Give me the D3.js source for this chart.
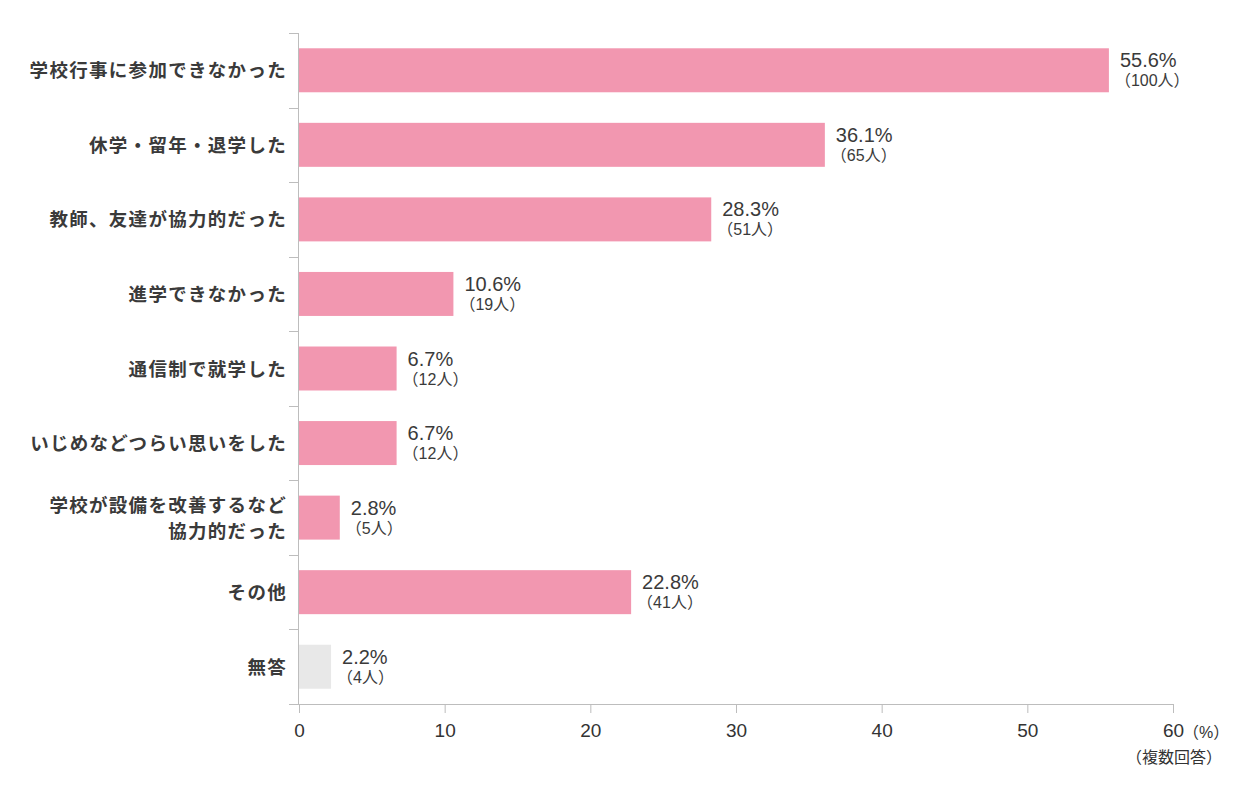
<!DOCTYPE html>
<html lang="ja">
<head>
<meta charset="UTF-8">
<title>chart</title>
<script src="https://d3js.org/d3.v7.min.js"></script>
<style>
  body { margin: 0; background: #fff; }
  text { font-family: "Liberation Sans", "Noto Sans CJK JP", sans-serif; }
</style>
</head>
<body>
<svg width="1250" height="800"></svg>
<script>
// data
const categories = [
  ["学校行事に参加できなかった"],
  ["休学・留年・退学した"],
  ["教師、友達が協力的だった"],
  ["進学できなかった"],
  ["通信制で就学した"],
  ["いじめなどつらい思いをした"],
  ["学校が設備を改善するなど", "協力的だった"],
  ["その他"],
  ["無答"]
];
const percents = [55.6, 36.1, 28.3, 10.6, 6.7, 6.7, 2.8, 22.8, 2.2];
const counts = [100, 65, 51, 19, 12, 12, 5, 41, 4];
const xTicks = [0, 10, 20, 30, 40, 50, 60];

const margin = {top: 33, left: 299, right: 1173, bottom: 704};
const svg = d3.select("svg");

const rows = categories.map((c, i) => ({lines: c, pct: percents[i], n: counts[i], i: i}));

const x = d3.scaleLinear().domain([0, 60]).range([margin.left, margin.right]);
const y = d3.scaleBand().domain(d3.range(rows.length))
  .range([margin.top, margin.bottom]).paddingInner(0.41).paddingOuter(0.205);
const band = d3.scaleBand().domain(d3.range(rows.length))
  .range([margin.top, margin.bottom]);

const axisColor = "#bdbdbd";

// y axis line + separators
svg.append("line")
  .attr("x1", margin.left - 0.5).attr("x2", margin.left - 0.5)
  .attr("y1", margin.top).attr("y2", margin.bottom)
  .attr("stroke", axisColor);
svg.selectAll(".sep")
  .data(d3.range(rows.length))
  .enter().append("line")
  .attr("x1", margin.left - 10).attr("x2", margin.left)
  .attr("y1", d => Math.round(band(d)) + 0.5)
  .attr("y2", d => Math.round(band(d)) + 0.5)
  .attr("stroke", axisColor);

// x axis
const xAxis = svg.append("g")
  .attr("transform", `translate(0,${margin.bottom})`)
  .call(d3.axisBottom(x).tickValues(xTicks).tickSize(9).tickPadding(11).tickSizeOuter(0));
xAxis.select(".domain").attr("stroke", axisColor)
  .attr("d", `M${margin.left - 10},0.5H${margin.right}`);
xAxis.selectAll(".tick line").attr("stroke", axisColor);
xAxis.selectAll(".tick text")
  .attr("fill", "#333").attr("font-size", "19px")
  .attr("font-family", "'Liberation Sans', 'Noto Sans CJK JP', sans-serif");

svg.append("text")
  .attr("x", x(60) + 10).attr("y", 738)
  .attr("font-size", "16px").attr("fill", "#333")
  .text("（%）");
svg.append("text")
  .attr("x", 1222).attr("y", 763)
  .attr("text-anchor", "end")
  .attr("font-size", "16px").attr("fill", "#333")
  .attr("font-family", "'Noto Sans CJK JP', sans-serif")
  .text("（複数回答）");

// bars
svg.selectAll(".bar")
  .data(rows)
  .enter().append("rect")
  .attr("x", x(0))
  .attr("y", d => y(d.i))
  .attr("width", d => x(d.pct) - x(0))
  .attr("height", y.bandwidth())
  .attr("fill", d => d.lines[0] === "無答" ? "#e8e8e8" : "#f297b0");

// category labels
rows.forEach(d => {
  const cy = band(d.i) + band.bandwidth() / 2;
  const t = svg.append("text")
    .attr("x", 287)
    .attr("text-anchor", "end")
    .attr("font-family", "'Noto Sans CJK JP', sans-serif")
    .attr("font-weight", "bold")
    .attr("font-size", "18.5px")
    .attr("letter-spacing", "1.3px")
    .attr("fill", "#3a3a3a");
  const n = d.lines.length;
  d.lines.forEach((s, k) => {
    t.append("tspan")
      .attr("x", 287)
      .attr("y", cy + 7 + (k - (n - 1) / 2) * 26)
      .text(s);
  });
});

// value labels
svg.selectAll(".pct")
  .data(rows)
  .enter().append("text")
  .attr("x", d => x(d.pct) + 11)
  .attr("y", d => band(d.i) + band.bandwidth() / 2 - 3)
  .attr("font-size", "20px")
  .attr("fill", "#3a3a3a")
  .text(d => d.pct.toFixed(1) + "%");
svg.selectAll(".cnt")
  .data(rows)
  .enter().append("text")
  .attr("x", d => x(d.pct) + 6)
  .attr("y", d => band(d.i) + band.bandwidth() / 2 + 16)
  .attr("font-size", "16px")
  .attr("fill", "#3a3a3a")
  .text(d => "（" + d.n + "人）");
</script>
</body>
</html>
